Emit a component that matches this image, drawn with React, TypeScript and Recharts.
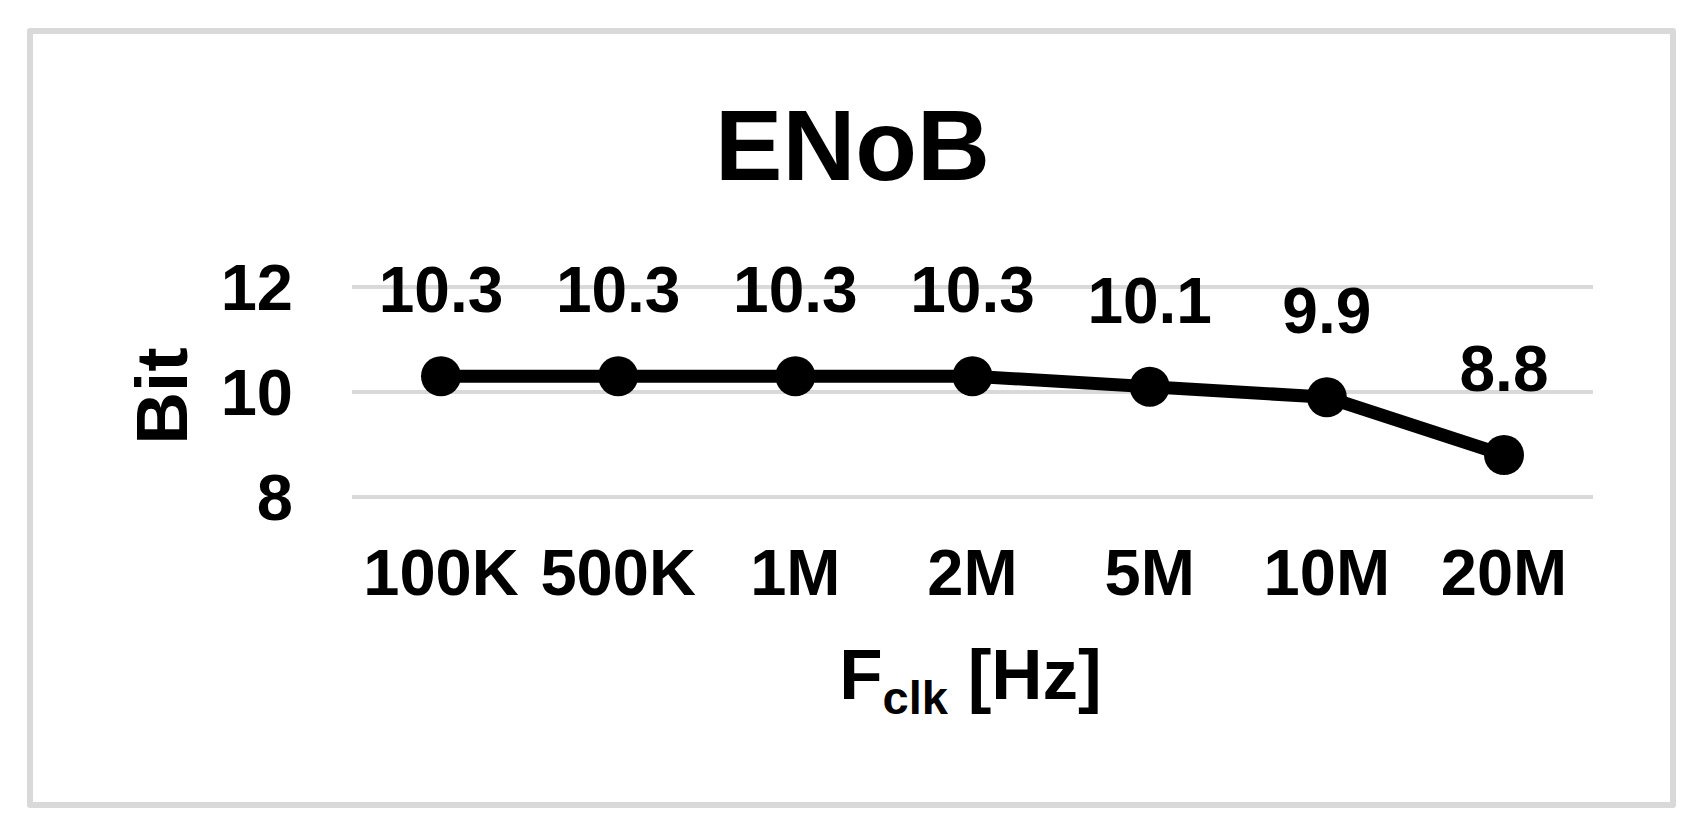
import React from "react";
import {
  LineChart,
  Line,
  XAxis,
  YAxis,
  CartesianGrid,
  LabelList,
} from "recharts";

const categories = ["100K", "500K", "1M", "2M", "5M", "10M", "20M"];
const enobValues = [10.3, 10.3, 10.3, 10.3, 10.1, 9.9, 8.8];
const yTicks = [8, 10, 12];

const data = categories.map((freq, i) => ({ freq, enob: enobValues[i] }));

const FONT = '"Liberation Sans", Arial, sans-serif';

function YTitle(props: any) {
  const vb = props.viewBox || {};
  const cx = vb.x + 161;
  const cy = vb.y + vb.height / 2 + 4;
  return (
    <text
      x={cx}
      y={cy}
      transform={`rotate(-90 ${cx} ${cy})`}
      textAnchor="middle"
      dy="0.355em"
      fontFamily={FONT}
      fontWeight="bold"
      fontSize={73}
      fill="#000"
    >
      Bit
    </text>
  );
}

function XTitle(props: any) {
  const vb = props.viewBox || {};
  const cx = vb.x + vb.width / 2 - 2;
  const cy = vb.y + 202;
  return (
    <text
      x={cx}
      y={cy}
      textAnchor="middle"
      fontFamily={FONT}
      fontWeight="bold"
      fontSize={71}
      fill="#000"
    >
      <tspan>F</tspan>
      <tspan fontSize={47} dy={15}>
        clk
      </tspan>
      <tspan dy={-15}> [Hz]</tspan>
    </text>
  );
}

export default function App() {
  return (
    <div
      style={{
        position: "absolute",
        left: 0,
        top: 0,
        width: 1699,
        height: 830,
        background: "#fff",
        fontFamily: FONT,
      }}
    >
      <div
        style={{
          position: "absolute",
          left: 27,
          top: 28,
          width: 1649,
          height: 780,
          boxSizing: "border-box",
          border: "6px solid #d9d9d9",
          borderRadius: 3,
        }}
      />
      <div
        style={{
          position: "absolute",
          left: 3,
          top: 95,
          width: 1699,
          textAlign: "center",
          fontSize: 101,
          lineHeight: "101px",
          fontWeight: "bold",
          color: "#000",
        }}
      >
        ENoB
      </div>
      <div style={{ position: "absolute", left: 0, top: 0 }}>
        <LineChart
          width={1699}
          height={830}
          data={data}
          margin={{ top: 287, right: 106, left: 0, bottom: 0 }}
        >
          <CartesianGrid
            vertical={false}
            stroke="#d9d9d9"
            strokeWidth={4}
          />
          <XAxis
            dataKey="freq"
            height={333}
            padding={{ left: 89, right: 89 }}
            axisLine={false}
            tickLine={false}
            tickMargin={46}
            interval={0}
            tick={{
              fontFamily: FONT,
              fontWeight: "bold",
              fontSize: 65,
              fill: "#000",
            }}
            label={<XTitle />}
          />
          <YAxis
            width={352}
            domain={[8, 12]}
            ticks={yTicks}
            axisLine={false}
            tickLine={false}
            tickMargin={53}
            tick={{
              fontFamily: FONT,
              fontWeight: "bold",
              fontSize: 65,
              fill: "#000",
            }}
            label={<YTitle />}
          />
          <Line
            type="linear"
            dataKey="enob"
            stroke="#000"
            strokeWidth={13}
            dot={{ r: 20, fill: "#000", stroke: "#000", strokeWidth: 0 }}
            activeDot={false}
            isAnimationActive={false}
          >
            <LabelList
              dataKey="enob"
              position="top"
              offset={64}
              fill="#000"
              fontFamily={FONT}
              fontWeight="bold"
              fontSize={64}
            />
          </Line>
        </LineChart>
      </div>
    </div>
  );
}
